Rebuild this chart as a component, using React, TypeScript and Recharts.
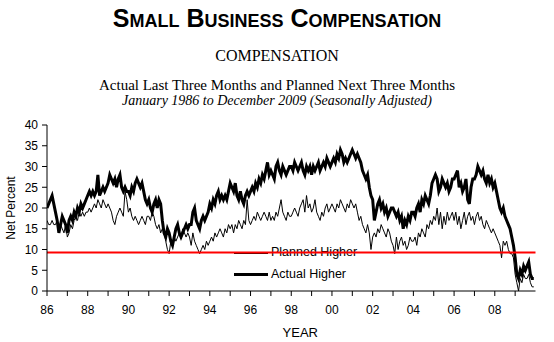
import React from "react";
import {
  LineChart,
  Line,
  XAxis,
  YAxis,
  ReferenceLine,
  Legend,
} from "recharts";

// Net percent of owners, monthly Jan 1986 .. Dec 2009 (one row per year)
const ACTUAL_HIGHER = [
  20, 21, 22, 23, 21, 19, 17, 14, 16, 18, 17, 16, // 86
  14, 17, 18, 17, 19, 18, 20, 19, 21, 20, 21, 22, // 87
  23, 24, 23, 24, 23, 24, 28, 23, 24, 25, 24, 25, // 88
  26, 28, 27, 26, 27, 25, 27, 28, 25, 24, 25, 24, // 89
  24, 23, 25, 24, 26, 27, 26, 25, 26, 24, 22, 21, // 90
  22, 20, 19, 21, 22, 20, 22, 21, 17, 14, 13, 15, // 91
  14, 12, 11, 13, 15, 16, 14, 13, 14, 15, 16, 15, // 92
  16, 16, 19, 20, 17, 16, 15, 17, 18, 17, 18, 19, // 93
  21, 20, 22, 21, 23, 24, 22, 23, 22, 23, 22, 24, // 94
  26, 25, 24, 26, 23, 22, 24, 22, 21, 23, 24, 23, // 95
  24, 25, 24, 26, 25, 27, 26, 28, 27, 29, 31, 28, // 96
  29, 28, 27, 30, 31, 29, 28, 30, 29, 28, 29, 30, // 97
  30, 29, 31, 30, 29, 30, 31, 29, 28, 30, 29, 30, // 98
  28, 30, 29, 30, 31, 29, 30, 31, 30, 32, 31, 30, // 99
  31, 32, 31, 33, 32, 34, 33, 31, 32, 31, 32, 33, // 00
  34, 33, 32, 33, 32, 31, 29, 28, 27, 28, 25, 23, // 01
  22, 17, 19, 21, 22, 20, 21, 19, 20, 18, 19, 20, // 02
  20, 19, 18, 19, 17, 18, 15, 17, 16, 18, 17, 19, // 03
  19, 18, 20, 21, 19, 22, 21, 23, 22, 21, 23, 26, // 04
  27, 28, 27, 24, 25, 27, 26, 25, 26, 24, 25, 27, // 05
  27, 28, 29, 25, 26, 24, 25, 27, 22, 21, 25, 27, // 06
  27, 28, 30, 29, 28, 29, 27, 26, 28, 26, 27, 25, // 07
  26, 24, 22, 20, 19, 20, 18, 17, 16, 15, 13, 11, // 08
  8, 4, 3, 5, 4, 6, 5, 6, 7, 4, 3, 3, // 09
];

const PLANNED_HIGHER = [
  17, 16, 16, 17, 16, 16, 17, 15, 16, 15, 14, 16, // 86
  13, 14, 16, 15, 17, 18, 17, 19, 18, 19, 18, 19, // 87
  19, 20, 19, 20, 21, 20, 22, 21, 20, 22, 21, 20, // 88
  21, 20, 19, 17, 16, 18, 19, 20, 19, 18, 24, 22, // 89
  19, 20, 18, 17, 18, 17, 16, 17, 18, 17, 16, 18, // 90
  18, 17, 19, 18, 16, 15, 16, 14, 15, 14, 12, 10, // 91
  9, 12, 11, 13, 12, 13, 14, 13, 15, 14, 13, 14, // 92
  13, 11, 14, 12, 11, 10, 9, 10, 11, 10, 12, 11, // 93
  12, 13, 12, 14, 13, 14, 15, 14, 13, 15, 14, 16, // 94
  15, 16, 14, 16, 15, 17, 16, 15, 17, 16, 22, 17, // 95
  16, 17, 18, 17, 19, 18, 17, 18, 19, 18, 17, 19, // 96
  17, 18, 17, 19, 18, 20, 22, 19, 18, 17, 19, 18, // 97
  18, 19, 20, 19, 18, 20, 21, 22, 19, 23, 20, 21, // 98
  19, 20, 22, 19, 18, 17, 19, 18, 20, 21, 19, 20, // 99
  21, 20, 19, 21, 20, 22, 21, 20, 19, 21, 20, 22, // 00
  21, 20, 21, 19, 17, 18, 16, 15, 14, 16, 14, 10, // 01
  13, 14, 13, 15, 14, 16, 15, 14, 13, 15, 14, 12, // 02
  11, 9, 13, 10, 12, 13, 11, 12, 10, 11, 13, 12, // 03
  12, 13, 11, 14, 13, 15, 14, 13, 16, 15, 17, 16, // 04
  18, 17, 20, 16, 19, 15, 18, 16, 19, 17, 18, 19, // 05
  17, 19, 16, 18, 15, 17, 19, 16, 18, 19, 17, 18, // 06
  16, 18, 19, 17, 18, 16, 15, 17, 16, 15, 14, 15, // 07
  14, 13, 12, 11, 8, 12, 11, 12, 10, 9, 9, 8, // 08
  4, 2, 0, 3, 2, 4, 3, 3, 4, 2, 1, 1, // 09
];

const START_YEAR = 1986;
const YEAR_TICKS = Array.from({ length: 24 }, (_, i) => START_YEAR + i);
const Y_TICKS = [0, 5, 10, 15, 20, 25, 30, 35, 40];
const RED_LINE_LEVEL = 9.3;

const chartData = ACTUAL_HIGHER.map((actual, i) => ({
  t: START_YEAR + i / 12,
  actual,
  planned: PLANNED_HIGHER[i],
}));

const AXIS_FONT = { fontFamily: "'Liberation Sans', Arial, sans-serif", fontSize: 12, fill: "#000" };

// legend sits behind the plot so the red line runs across "Planned Higher"
function ChartLegend() {
  return (
    <div style={{ fontFamily: "'Liberation Sans', Arial, sans-serif", fontSize: 12.5, color: "#000" }}>
      <div style={{ display: "flex", alignItems: "center", height: 22 }}>
        <span style={{ width: 34, borderTop: "1px solid #000", marginRight: 3 }} />
        <span style={{ marginTop: -3 }}>Planned Higher</span>
      </div>
      <div style={{ display: "flex", alignItems: "center", height: 20 }}>
        <span style={{ width: 34, borderTop: "3px solid #000", marginRight: 3 }} />
        <span>Actual Higher</span>
      </div>
    </div>
  );
}

export default function App() {
  return (
    <div style={{ position: "absolute", left: 0, top: 0, width: 554, height: 342 }}>
      <div
        style={{
          position: "absolute", left: 0, top: 4, width: 554, textAlign: "center",
          fontFamily: "'Liberation Sans', Arial, sans-serif", fontWeight: "bold",
          fontVariant: "small-caps", fontSize: 25, lineHeight: "28px",
        }}
      >
        Small Business Compensation
      </div>
      <div
        style={{
          position: "absolute", left: 0, top: 46, width: 554, textAlign: "center",
          fontFamily: "'Liberation Serif', 'Times New Roman', serif", fontSize: 16, lineHeight: "20px",
        }}
      >
        COMPENSATION
      </div>
      <div
        style={{
          position: "absolute", left: 0, top: 76, width: 554, textAlign: "center",
          fontFamily: "'Liberation Serif', 'Times New Roman', serif", fontSize: 15, lineHeight: "18px",
        }}
      >
        Actual Last Three Months and Planned Next Three Months
      </div>
      <div
        style={{
          position: "absolute", left: 0, top: 92, width: 554, textAlign: "center",
          fontFamily: "'Liberation Serif', 'Times New Roman', serif", fontStyle: "italic",
          fontSize: 14, lineHeight: "18px",
        }}
      >
        January 1986 to December 2009 (Seasonally Adjusted)
      </div>

      <div style={{ position: "absolute", left: 0, top: 0 }}>
        <LineChart
          width={554}
          height={342}
          data={chartData}
          margin={{ top: 125, right: 18.5, bottom: 0, left: 0 }}
        >
          <XAxis
            dataKey="t"
            type="number"
            domain={[1986, 2010]}
            ticks={YEAR_TICKS}
            tickFormatter={(y: number) => (y % 2 === 0 ? String(y).slice(2) : "")}
            height={51}
            tickSize={5}
            tickMargin={9}
            stroke="#000"
            tick={AXIS_FONT}
            allowDataOverflow
            label={{
              value: "YEAR",
              position: "insideBottom",
              offset: 5,
              dx: 9,
              style: { ...AXIS_FONT, fontSize: 13 },
            }}
          />
          <YAxis
            domain={[0, 40]}
            ticks={Y_TICKS}
            width={47}
            tickSize={5}
            tickMargin={4}
            stroke="#000"
            tick={AXIS_FONT}
            label={{
              value: "Net Percent",
              angle: -90,
              position: "insideLeft",
              offset: 11,
              textAnchor: "middle",
              style: { ...AXIS_FONT, textAnchor: "middle" },
            }}
          />
          <Legend
            layout="vertical"
            align="center"
            verticalAlign="middle"
            content={() => <ChartLegend />}
            wrapperStyle={{ left: 234, top: 242, width: 150, zIndex: -1 }}
          />
          <Line
            type="linear"
            dataKey="planned"
            stroke="#000"
            strokeWidth={1}
            dot={false}
            isAnimationActive={false}
          />
          <Line
            type="linear"
            dataKey="actual"
            stroke="#000"
            strokeWidth={3}
            dot={false}
            isAnimationActive={false}
          />
          <ReferenceLine y={RED_LINE_LEVEL} stroke="#ff0000" strokeWidth={2} />
        </LineChart>
      </div>
    </div>
  );
}
